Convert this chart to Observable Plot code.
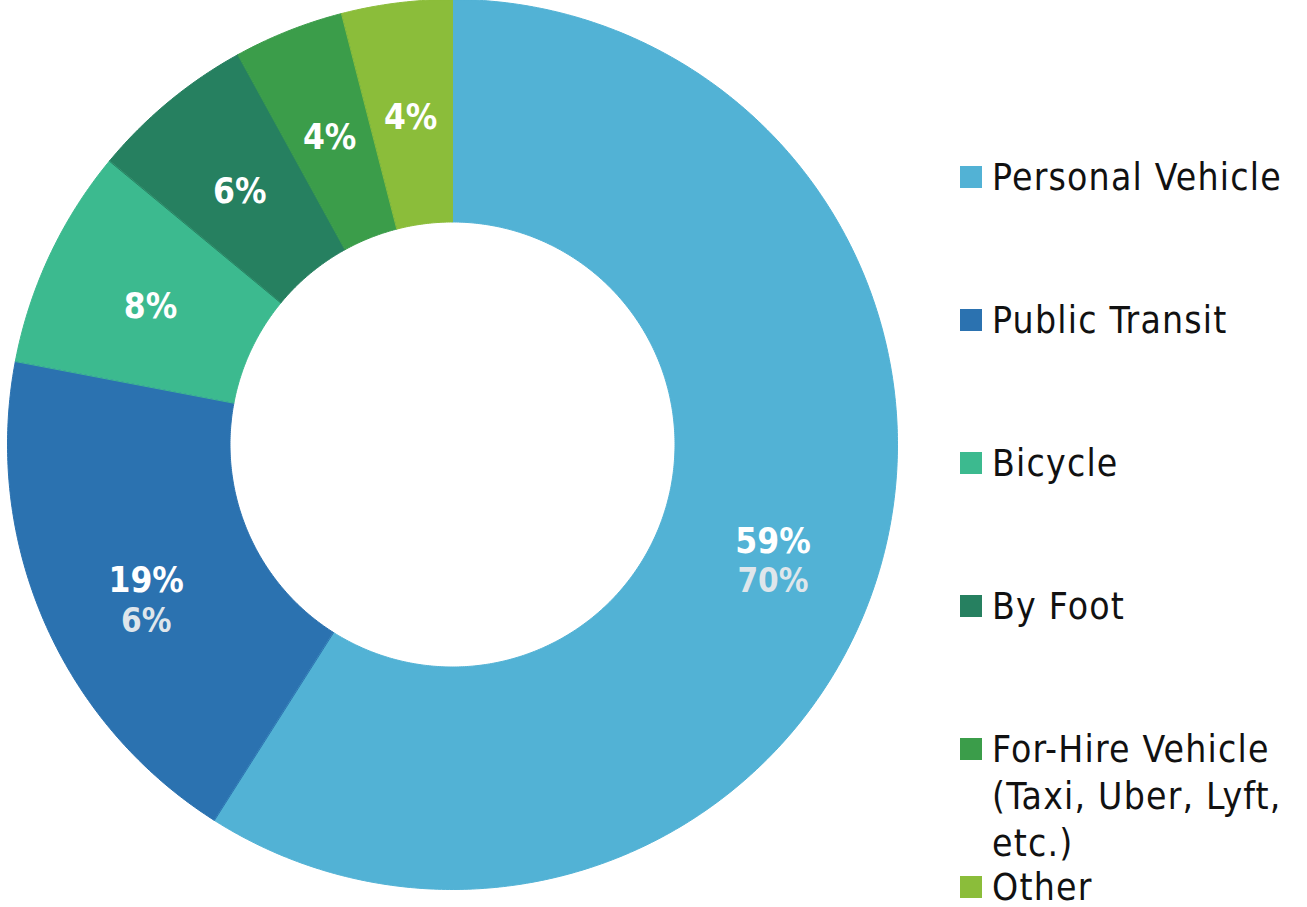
<!DOCTYPE html>
<html><head><meta charset="utf-8">
<script src="https://cdn.jsdelivr.net/npm/d3@7"></script>
<script src="https://cdn.jsdelivr.net/npm/@observablehq/plot@0.6"></script>
<style>
body{margin:0;background:#fff;overflow:hidden}
#wrap{position:relative;width:1307px;height:907px}
#chart{position:absolute;left:0;top:0}
#chart text{font-stretch:condensed}
#legend{position:absolute;left:960px;top:153.5px;font-family:"DejaVu Sans Condensed","DejaVu Sans",sans-serif;font-stretch:condensed;font-size:37px;letter-spacing:1.2px;line-height:47px;color:#111}
.item{position:relative;height:143px;padding-left:32px}
.item:last-child{margin-top:-5px}
.sw{position:absolute;left:0;top:12.5px;width:22px;height:22px}
.line{white-space:nowrap}
</style>
</head><body><div id="wrap"><div id="chart"></div><div id="legend"></div></div>
<script>
const modes = ["Personal Vehicle","Public Transit","Bicycle","By Foot","For-Hire Vehicle (Taxi, Uber, Lyft, etc.)","Other"];
const shares = [59,19,8,6,4,4];
const secondShares = [70,6,null,null,null,null];
const colors = ["#52b2d5","#2b72b0","#3cba8f","#268060","#3b9d4a","#8bbd3a"];
const legendLines = [["Personal Vehicle"],["Public Transit"],["Bicycle"],["By Foot"],["For-Hire Vehicle","(Taxi, Uber, Lyft,","etc.)"],["Other"]];

const outerR = 1, innerR = 0.5, labelR = 0.75;
const arcs = d3.pie().sort(null).value(d => d)(shares);
const ring = [];
arcs.forEach((p, i) => {
  const n = Math.max(2, Math.ceil((p.endAngle - p.startAngle) / (Math.PI / 360)));
  for (let k = 0; k <= n; k++) {
    const a = p.startAngle + (p.endAngle - p.startAngle) * k / n;
    ring.push({mode: modes[i], x: outerR * Math.sin(a), y: outerR * Math.cos(a)});
  }
  for (let k = n; k >= 0; k--) {
    const a = p.startAngle + (p.endAngle - p.startAngle) * k / n;
    ring.push({mode: modes[i], x: innerR * Math.sin(a), y: innerR * Math.cos(a)});
  }
});
const labels = arcs.map((p, i) => {
  const a = (p.startAngle + p.endAngle) / 2;
  return {mode: modes[i], x: labelR * Math.sin(a), y: labelR * Math.cos(a), main: shares[i] + "%", second: secondShares[i] == null ? null : secondShares[i] + "%"};
});

const chart = Plot.plot({
  width: 910, height: 907, margin: 0,
  x: {domain: [-1, 1], range: [7, 897], axis: null},
  y: {domain: [-1, 1], range: [889, -1], axis: null},
  color: {domain: modes, range: colors},
  style: {background: "transparent"},
  marks: [
    Plot.line(ring, {x: "x", y: "y", z: "mode", fill: "mode", stroke: "mode", strokeWidth: 1, curve: "linear-closed"}),
    Plot.text(labels, {x: "x", y: "y", text: "main", fill: "white", fontSize: 35, fontWeight: "bold", fontFamily: "DejaVu Sans Condensed, DejaVu Sans, sans-serif", dy: 4}),
    Plot.text(labels.filter(d => d.second), {x: "x", y: "y", text: "second", fill: "#dfe6eb", fontSize: 33, fontWeight: "bold", fontFamily: "DejaVu Sans Condensed, DejaVu Sans, sans-serif", dy: 44})
  ]
});
document.getElementById("chart").appendChild(chart);

const legend = document.getElementById("legend");
modes.forEach((m, i) => {
  const item = document.createElement("div");
  item.className = "item";
  const sw = document.createElement("div");
  sw.className = "sw";
  sw.style.background = colors[i];
  item.appendChild(sw);
  legendLines[i].forEach(t => {
    const l = document.createElement("div");
    l.className = "line";
    l.textContent = t;
    item.appendChild(l);
  });
  legend.appendChild(item);
});
</script></body></html>
